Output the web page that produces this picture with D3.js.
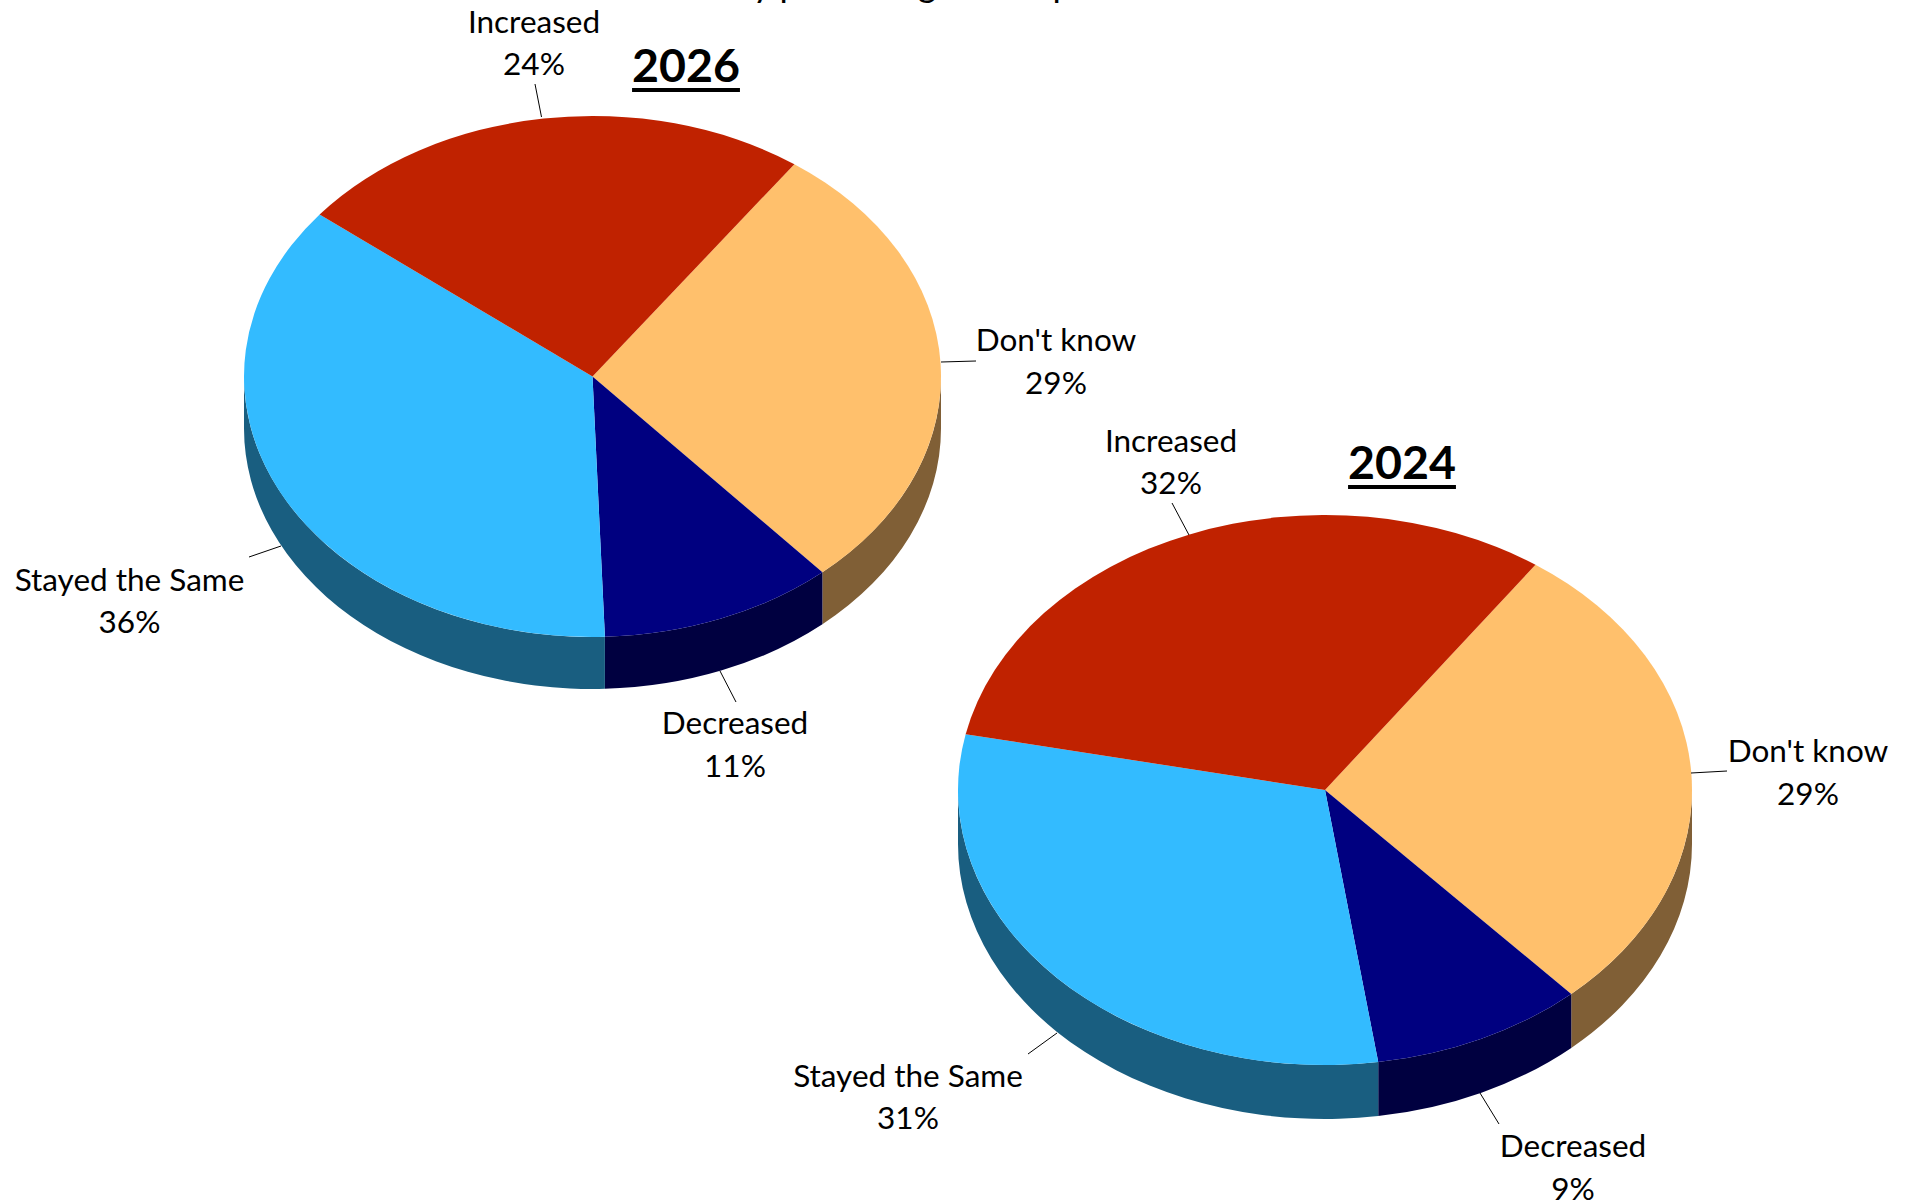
<!DOCTYPE html>
<html>
<head>
<meta charset="utf-8">
<script src="https://cdn.jsdelivr.net/npm/d3@7/dist/d3.min.js"></script>
<style>
html,body{margin:0;padding:0;background:#fff}
svg{display:block}
text{font-family:Lato,"Noto Sans",sans-serif;fill:#000}
</style>
</head>
<body>
<svg id="chart" width="1915" height="1204" viewBox="0 0 1915 1204"></svg>
<script>
const categories = ["Don't know", "Decreased", "Stayed the Same", "Increased"];
const values2026 = [28.7, 10.9, 36.25, 24.15];
const values2024 = [28.6, 9.4, 30.6, 31.5];
const topColors = ["#FFC06C", "#000080", "#33BBFF", "#C02200"];
const sideColors = ["#805F36", "#000040", "#195E80", "#602211"];
const titleFragment = "by percentage of respondents";

const layout2026 = {
  year: "2026", values: values2026, cx: 592.5, cy: 376.5, rx: 348.5, ry: 260.5, depth: 52, start: 35.4,
  yearX: 686, yearY: 82,
  labels: [[1056, 351, 394], [735, 734, 777], [129.5, 591, 633], [534, 33, 75]],
  leaders: [[941, 362, 976, 361], [720, 671, 736, 702], [281, 546, 249, 557], [541.5, 117, 535, 84]]
};
const layout2024 = {
  year: "2024", values: values2024, cx: 1325, cy: 790, rx: 367, ry: 275, depth: 54, start: 35,
  yearX: 1402, yearY: 479,
  labels: [[1808, 762, 805], [1573, 1157, 1200], [908, 1087, 1129], [1171, 452, 494]],
  leaders: [[1691, 773, 1727, 771], [1480, 1093, 1499, 1124], [1057, 1033, 1028, 1054], [1189, 535, 1172, 503]]
};

const svg = d3.select("#chart");
const labelSize = 31.5, yearSize = 46.5;

svg.append("text").attr("class", "title-fragment")
  .attr("x", 733).attr("y", -3).attr("font-size", 36).text(titleFragment);

function drawPie(cfg) {
  const g = svg.append("g").attr("class", "pie-" + cfg.year);
  const startRad = cfg.start * Math.PI / 180;
  const slices = d3.pie().sort(null).startAngle(startRad).endAngle(startRad + 2 * Math.PI)(cfg.values);
  const xOf = a => cfg.cx + cfg.rx * Math.sin(a);
  const yOf = a => cfg.cy - cfg.ry * Math.cos(a);

  // side wall: visible part of each slice's rim on the near half of the ellipse
  const wall = s => {
    const a0 = Math.max(s.startAngle, Math.PI / 2);
    const a1 = Math.min(s.endAngle, 3 * Math.PI / 2);
    if (a1 <= a0) return null;
    return `M${xOf(a0)},${yOf(a0)}`
      + `A${cfg.rx},${cfg.ry} 0 0 1 ${xOf(a1)},${yOf(a1)}`
      + `L${xOf(a1)},${yOf(a1) + cfg.depth}`
      + `A${cfg.rx},${cfg.ry} 0 0 0 ${xOf(a0)},${yOf(a0) + cfg.depth}Z`;
  };
  g.selectAll("path.wall").data(slices).join("path").attr("class", "wall")
    .attr("d", wall).attr("fill", (d, i) => sideColors[i]);

  const arc = d3.arc().innerRadius(0).outerRadius(100);
  g.selectAll("path.top").data(slices).join("path").attr("class", "top")
    .attr("transform", `translate(${cfg.cx},${cfg.cy}) scale(${cfg.rx / 100},${cfg.ry / 100})`)
    .attr("d", arc).attr("fill", (d, i) => topColors[i]);

  g.selectAll("line.leader").data(cfg.leaders).join("line").attr("class", "leader")
    .attr("x1", d => d[0]).attr("y1", d => d[1]).attr("x2", d => d[2]).attr("y2", d => d[3])
    .attr("stroke", "#000").attr("stroke-width", 1);

  categories.forEach((name, i) => {
    const [x, y1, y2] = cfg.labels[i];
    g.append("text").attr("x", x).attr("y", y1).attr("text-anchor", "middle")
      .attr("font-size", labelSize).text(name);
    g.append("text").attr("x", x).attr("y", y2).attr("text-anchor", "middle")
      .attr("font-size", labelSize).text(Math.round(cfg.values[i]) + "%");
  });

  const yr = g.append("text").attr("x", cfg.yearX).attr("y", cfg.yearY).attr("text-anchor", "middle")
    .attr("font-size", yearSize).attr("font-weight", 700).text(cfg.year);
  const w = yr.node().getComputedTextLength();
  g.append("rect").attr("x", cfg.yearX - w / 2).attr("y", cfg.yearY + 6)
    .attr("width", w).attr("height", 4).attr("fill", "#000");
}
drawPie(layout2026);
drawPie(layout2024);
</script>
</body>
</html>
